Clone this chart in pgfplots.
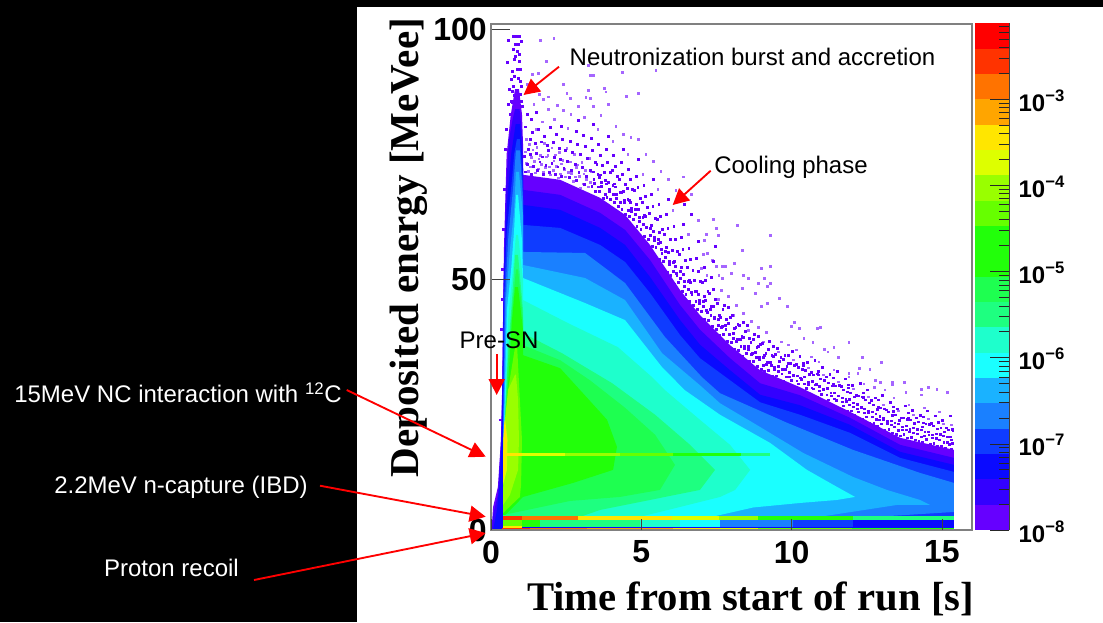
\documentclass[border=0pt]{standalone}
\usepackage{fontspec}
\usepackage{pgfplots}
\pgfplotsset{compat=1.18}
\usetikzlibrary{arrows.meta}
\setmainfont{Liberation Sans}
\newfontfamily\timesfont{Liberation Serif}
\definecolor{c1}{HTML}{6600FF}\definecolor{c2}{HTML}{3300FF}\definecolor{c3}{HTML}{0A0AFF}
\definecolor{c4}{HTML}{0F3CFF}\definecolor{c5}{HTML}{1A80FF}\definecolor{c6}{HTML}{1AB2FF}
\definecolor{c7}{HTML}{1AFFFF}\definecolor{c8}{HTML}{1EFFCC}\definecolor{c9}{HTML}{1EFF80}
\definecolor{c10}{HTML}{1EFF50}\definecolor{c11}{HTML}{22FF0A}\definecolor{c13}{HTML}{66FF00}
\definecolor{c14}{HTML}{99FF00}\definecolor{c15}{HTML}{DDFF00}\definecolor{c16}{HTML}{FFE600}
\definecolor{c17}{HTML}{FFA500}\definecolor{c18}{HTML}{FF7300}\definecolor{c19}{HTML}{FF3300}
\definecolor{c20}{HTML}{FF0000}\definecolor{lil}{HTML}{A566FF}
\newcommand\hl[5]{\addplot[#1,line width=#5pt,forget plot] coordinates {(#2,#4)(#3,#4)};}
\newcommand\poly[2]{\addplot[fill=#1,draw=none,forget plot] coordinates {#2} --cycle;}
\newcommand\seg[5]{\addplot[fill=#1,draw=none,forget plot] coordinates {(#2,#4)(#3,#4)(#3,#5)(#2,#5)} --cycle;}
\newcommand\pw[1]{\bfseries 10\raisebox{0.42em}{\fontsize{12.5}{12.5}\selectfont\bfseries −#1}}
\begin{document}
\begin{tikzpicture}
\begin{scope}[x=0.75pt,y=-0.75pt]
\useasboundingbox (0,0) rectangle (1103,622);
\fill[white] (0,0) rectangle (1103,622);
\fill[black] (0,0) rectangle (357,622);
\fill[black] (0,0) rectangle (1103,7);
\end{scope}
% main histogram
\begin{axis}[at={(368.25pt,-397.5pt)},anchor=south west,scale only axis,
 width=360.75pt,height=379.5pt,xmin=0,xmax=16,ymin=0,ymax=101,
 axis on top,axis line style={draw=black!50,line width=0.9pt},
 xtick=\empty,
 ytick={50,100},yticklabels={50,100},
 extra x ticks={0,5,10,15},extra x tick labels={0,5,10,15},extra x tick style={major tick length=8.6pt},
 extra y ticks={0},extra y tick labels={0},extra y tick style={major tick length=0pt},
 tick align=inside,tick pos=left,major tick length=14.2pt,
 tick style={black!75,line width=0.55pt},
 xticklabel style={font=\fontsize{24}{24}\selectfont\bfseries,inner sep=0pt,yshift=-8pt},
 yticklabel style={font=\fontsize{24}{24}\selectfont\bfseries,inner sep=0pt,xshift=-3pt,anchor=east},
 xlabel={Time from start of run [s]},ylabel={Deposited energy [MeVee]},
 every axis x label/.style={at={(rel axis cs:0.5395,-0.1362)},anchor=center,font=\timesfont\fontsize{30.5}{30.5}\selectfont\bfseries},
 every axis y label/.style={at={(rel axis cs:-0.1716,0.558)},anchor=center,rotate=90,font=\timesfont\fontsize{30.8}{30.8}\selectfont\bfseries},
]
% sparse bins (light)
\addplot[only marks,mark=square*,mark size=0.65pt,lil,mark options={draw=none,fill=lil},forget plot] coordinates {
(2.09,98.1)(1.63,97.8)(1.85,93.5)(1.57,91.2)(3.24,92.8)(4.37,91.3)(5.48,91.8)(3.29,90.8)(3.4,90.8)(3.76,88.2)(3.82,87.5)(3.24,87.8)(2.41,89)(4.51,86.6)(4.9,87.2)(1.91,86.5)(1.74,86)(2.52,87.2)(2.63,86.2)(3.29,86.2)
(8.2,60.9)(7.5,60.2)(7.55,58.9)(9.28,58.9)(7.1,57.9)(8.35,55.9)(7.2,55.3)(7.35,53.9)(8.1,53.3)(7.5,52.7)(7.7,52.7)(7.8,52.7)(9.0,52.2)(9.28,52.7)(7.0,52.2)(7.18,50.9)(7.58,50.9)(8.0,51.3)(8.4,50.9)(8.55,50.3)(7.7,50.3)(9.1,50.3)(8.9,49.3)(9.28,49.3)(9.18,48.7)(8.35,48.3)(9.6,46.3)(8.8,47.3)(9.2,45.3)(9.85,44.7)(9.0,44.7)(10.08,41.5)(10,40.7)(10.25,40.3)(10.95,40.5)(10.85,40.3)(10.4,38.3)(10.7,37.5)(11.9,37.5)(11.4,36.5)(11.08,36.1)(11.2,35.6)(12.34,34.5)(12.97,33.5)(11.55,34.5)(12.25,32.3)(12.6,32.1)(12.2,31.3)(11.9,31.3)(12.77,29.9)(12.94,29.5)(13.34,29.5)(13.74,29.5)(14.54,28.5)(14.83,28.1)(15.17,27.5)(14.3,28.1)(14.3,27)(13.8,27.5)(13.34,29)(13.1,28)(12.74,28.5)
(1.2,89)(1.42,85)(1.38,91)(1.6,87)(1.9,84)(2.2,84.8)(2.4,83.8)(2.65,83)(2.9,84.6)(3.15,86.4)(3.4,84.6)(3.65,82.8)(3.9,85)(4.15,80.6)(4.4,79)(4.65,78.4)(4.9,78)(5.15,75)(5.4,73.6)(5.65,71.6)(5.9,70)(6.15,67.8)(6.4,70.5)(6.65,67)(6.9,61.8)(7.15,59)(7.4,62)(7.65,47.8)(7.9,46.6)(8.15,44.8)(8.4,43.2)(8.65,41.6)(8.9,40.4)(9.15,39.4)(9.65,37.6)(9.9,37)(10.15,36)(10.65,34.6)(10.9,33.6)(11.4,32)(11.9,30.6)(12.4,29.2)(13.4,26.4)(13.9,25)(14.4,24.4)(14.9,23.6)
(1.18,78)(1.5,80)(1.7,81.5)(2.1,82)(2.55,80.2)(3.1,82.4)(3.55,80)(4.05,77.6)(4.55,75)(5.05,71)(5.55,68)(6.05,63.8)(6.55,59)(7.05,55)(7.55,46)(8.05,42.8)(8.55,39.8)(9.05,37.6)(9.55,35.6)(10.05,34)(10.55,32.4)(11.05,31)(11.55,29.6)(12.05,28.2)(12.55,26.6)(13.05,25)(13.55,23.8)(14.05,23)(14.55,22.2)(15.05,21.2)(15.3,21)
(1.23,71.6)(1.31,72.5)(1.18,73.2)(1.34,74.4)(1.14,75.5)(1.27,77)(1.48,71.3)(1.56,72.1)(1.43,73.6)(1.59,74.1)(1.39,75.9)(1.52,76.4)(1.73,71.5)(1.81,72.4)(1.68,73)(1.84,74.5)(1.64,74.8)(1.77,77.2)
(1.98,70.9)(2.06,71.8)(1.93,72.5)(2.09,73.7)(1.89,74.8)(2.02,76.3)(2.23,70.3)(2.31,71.1)(2.18,72.6)(2.34,73.1)(2.14,74.9)(2.27,75.4)(2.48,70.5)(2.56,71.4)(2.43,72)(2.59,73.5)(2.39,73.8)(2.52,76.2)
(2.73,69.6)(2.81,70.5)(2.68,71.2)(2.84,72.4)(2.64,73.5)(2.77,75)(2.98,68.3)(3.06,69.1)(2.93,70.6)(3.09,71.1)(2.89,72.9)(3.02,73.4)(3.23,68.5)(3.31,69.4)(3.18,70)(3.34,71.5)(3.14,71.8)(3.27,74.2)
};
% sparse bins (dark)
\addplot[only marks,mark=square*,mark size=0.7pt,c1,mark options={draw=none,fill=c1},forget plot] coordinates {
(0.75,98.5)(0.85,98.5)(0.95,98.5)(0.8,97)(0.9,97)(1.0,97.5)(0.58,97.8)(0.75,96)(0.87,95.5)(0.95,95)(0.78,94)(0.93,93.5)(0.55,93.4)(0.98,92)(0.72,91.5)(0.67,90)(1.0,88.5)(0.62,88)(0.58,85)(1.05,84.6)(0.52,80)(0.47,76)(0.44,68)(0.4,60)(0.38,52)(0.36,46)(0.34,40)(0.34,30)(0.32,22)(0.82,94.5)(0.88,92)(0.78,90.5)(0.9,90.2)(0.7,87.5)(0.96,89.6)(0.74,88.6)(0.97,87)(0.68,85.6)(0.76,86.8)(1.0,85.5)(0.64,83)(0.72,85.4)
(1.15,71.5)(1.22,73)(1.1,74.6)(1.25,76)(1.3,78)(1.13,80.5)(1.2,83)
(1.35,71)(1.42,72.6)(1.3,75)(1.46,77.2)(1.38,79.4)(1.33,82)
(1.55,71.8)(1.62,73.5)(1.5,75.2)(1.66,77.5)(1.58,80)(1.52,83.4)
(1.75,71)(1.82,72.8)(1.7,74.5)(1.86,76.8)(1.78,78.6)
(1.95,71.4)(2.02,73.2)(1.9,75.8)(2.06,77.4)(1.98,80.4)
(2.15,71)(2.22,72.5)(2.1,74.4)(2.26,76.2)(2.18,79)
(2.35,70.6)(2.42,72.2)(2.3,74)(2.46,75.8)(2.38,78)(2.33,80.6)
(2.6,70.4)(2.67,71.8)(2.55,73.6)(2.71,75.4)(2.63,77.6)
(2.85,69.8)(2.92,71.4)(2.8,73)(2.96,75)(2.88,77)(2.83,79.6)(2.9,81.8)
(3.1,69)(3.17,70.6)(3.05,72.4)(3.21,74.2)(3.13,76.6)(3.08,78.8)
(3.35,68.6)(3.42,70)(3.3,71.8)(3.46,73.4)(3.38,75.8)(3.33,78.2)(3.4,81)
(3.6,67.6)(3.67,69.4)(3.55,71)(3.71,72.8)(3.63,74.8)(3.58,77)
(3.85,66.4)(3.92,68)(3.8,69.8)(3.96,71.4)(3.88,73.4)(3.83,76)(3.9,78.6)
(4.1,65.4)(4.17,67)(4.05,68.8)(4.21,70.6)(4.13,72.6)(4.08,74.8)
(4.35,64)(4.42,65.8)(4.3,67.4)(4.46,69)(4.38,71)(4.33,73.4)(4.4,76)
(4.6,62.6)(4.67,64.2)(4.55,66)(4.71,68)(4.63,70)(4.58,72)
(4.85,60.6)(4.92,62.4)(4.8,64)(4.96,66.2)(4.88,68.4)(4.83,70.6)(4.9,74)
(5.1,58.6)(5.17,60.4)(5.05,62.4)(5.21,64.4)(5.13,66.6)(5.08,68.8)
(5.35,56.6)(5.42,58.4)(5.3,60.2)(5.46,62.2)(5.38,64.6)(5.33,67)(5.4,70)
(5.6,54)(5.67,56)(5.55,58)(5.71,60)(5.63,62.6)(5.58,65)
(5.85,51.4)(5.92,53.6)(5.8,55.6)(5.96,58)(5.88,60.2)(5.83,63)(5.9,66)
(6.1,49)(6.17,51.2)(6.05,53.4)(6.21,55.6)(6.13,58)(6.08,60.6)
(6.35,47.6)(6.42,49.6)(6.3,51.6)(6.46,53.8)(6.38,56)(6.33,58.4)(6.4,61)(6.43,65)
(6.6,45.6)(6.67,47.4)(6.55,49.6)(6.71,51.8)(6.63,54)(6.58,56.2)(6.66,63)
(6.85,44)(6.92,45.8)(6.8,47.6)(6.96,49.6)(6.88,51.6)(6.83,54.2)(6.9,57.6)
(7.1,42)(7.17,43.8)(7.05,45.6)(7.21,47.6)(7.13,49.8)(7.08,52.4)
(7.35,40.6)(7.42,42.2)(7.3,44)(7.46,46)(7.38,48)(7.33,50.4)(7.4,53.6)(7.45,56.6)
(7.6,38.8)(7.67,40.4)(7.55,42)(7.71,44)
(7.85,37.6)(7.92,39)(7.8,40.8)(7.96,42.4)(7.88,44.4)
(8.1,36)(8.17,37.6)(8.05,39.2)(8.21,41)
(8.35,34.6)(8.42,36.2)(8.3,38)(8.46,39.6)(8.38,41.4)
(8.6,33.6)(8.67,35)(8.55,36.6)(8.71,38)
(8.85,32.6)(8.92,34)(8.8,35.4)(8.96,37)(8.88,38.6)
(9.1,31.6)(9.17,33)(9.05,34.4)(9.21,36)
(9.35,30.8)(9.42,32)(9.3,33.4)(9.46,35)(9.38,36.6)
(9.6,30)(9.67,31.2)(9.55,32.6)(9.71,34)
(9.85,29.2)(9.92,30.6)(9.8,32)(9.96,33.2)(9.88,34.8)
(10.1,28.6)(10.17,29.8)(10.05,31)(10.21,32.4)
(10.35,28)(10.42,29.2)(10.3,30.4)(10.46,31.8)(10.38,33.2)
(10.6,27.2)(10.67,28.4)(10.55,29.6)(10.71,31)
(10.85,26.6)(10.92,27.8)(10.8,29)(10.96,30.2)(10.88,31.6)
(11.1,25.8)(11.17,27)(11.05,28.2)(11.21,29.4)
(11.35,25)(11.42,26.2)(11.3,27.4)(11.46,28.8)(11.38,30.4)
(11.6,24.4)(11.67,25.6)(11.55,26.8)(11.71,28)
(11.85,23.8)(11.92,25)(11.8,26.2)(11.96,27.4)(11.88,29)
(12.1,23)(12.17,24.2)(12.05,25.4)(12.21,26.8)
(12.35,22.2)(12.42,23.4)(12.3,24.6)(12.46,26)(12.38,27.4)
(12.6,21.4)(12.67,22.6)(12.55,23.8)(12.71,25)
(12.85,20.8)(12.92,22)(12.8,23.2)(12.96,24.4)(12.88,26)
(13.1,20)(13.17,21.2)(13.05,22.4)(13.21,23.6)
(13.35,19.4)(13.42,20.6)(13.3,21.8)(13.46,23)(13.38,24.6)
(13.6,18.8)(13.67,20)(13.55,21.2)(13.71,22.4)
(13.85,18.4)(13.92,19.6)(13.8,20.8)(13.96,22)(13.88,23.4)
(14.1,18)(14.17,19.2)(14.05,20.4)(14.21,21.6)
(14.35,17.6)(14.42,18.8)(14.3,20)(14.46,21.2)(14.38,22.6)
(14.6,17.2)(14.67,18.4)(14.55,19.6)(14.71,20.8)
(14.85,16.8)(14.92,18)(14.8,19.2)(14.96,20.4)(14.88,21.6)
(15.1,16.4)(15.17,17.6)(15.05,18.8)(15.21,20)
(15.3,16.2)(15.34,17.4)(15.27,18.6)(15.36,19.8)
(3.48,67.6)(3.56,68.5)(3.43,69.2)(3.59,70.4)(3.39,71.5)(3.52,73)(3.73,66.3)(3.81,67.1)(3.68,68.6)(3.84,69.1)(3.64,70.9)(3.77,71.4)(3.98,66.1)(4.06,67)(3.93,67.6)(4.09,69.1)(3.89,69.4)(4.02,71.8)
(4.23,64.6)(4.31,65.5)(4.18,66.2)(4.34,67.4)(4.14,68.5)(4.27,70)(4.48,63.1)(4.56,63.9)(4.43,65.4)(4.59,65.9)(4.39,67.7)(4.52,68.2)(4.73,62.1)(4.81,63)(4.68,63.6)(4.84,65.1)(4.64,65.4)(4.77,67.8)
(4.98,60.1)(5.06,61)(4.93,61.7)(5.09,62.9)(4.89,64)(5.02,65.5)(5.23,58.1)(5.31,58.9)(5.18,60.4)(5.34,60.9)(5.14,62.7)(5.27,63.2)(5.48,56.4)(5.56,57.3)(5.43,57.9)(5.59,59.4)(5.39,59.7)(5.52,62.1)
(5.73,53.6)(5.81,54.5)(5.68,55.2)(5.84,56.4)(5.64,57.5)(5.77,59)(5.98,50.8)(6.06,51.6)(5.93,53.1)(6.09,53.6)(5.89,55.4)(6.02,55.9)(6.23,49.4)(6.31,50.3)(6.18,50.9)(6.34,52.4)(6.14,52.7)(6.27,55.1)
(6.48,47.1)(6.56,48)(6.43,48.7)(6.59,49.9)(6.39,51)(6.52,52.5)(6.73,44.8)(6.81,45.6)(6.68,47.1)(6.84,47.6)(6.64,49.4)(6.77,49.9)(6.98,43.7)(7.06,44.6)(6.93,45.2)(7.09,46.7)(6.89,47)(7.02,49.4)
(7.23,41.9)(7.31,42.8)(7.18,43.5)(7.34,44.7)(7.14,45.8)(7.27,47.3)(7.48,40.1)(7.56,40.9)(7.43,42.4)(7.59,42.9)(7.39,44.7)(7.52,45.2)(7.73,39.1)(7.81,40)(7.68,40.6)(7.84,42.1)(7.64,42.4)(7.77,44.8)
(7.98,37.4)(8.06,38.3)(7.93,39)(8.09,40.2)(7.89,41.3)(8.02,42.8)(8.23,35.8)(8.31,36.6)(8.18,38.1)(8.34,38.6)(8.14,40.4)(8.27,40.9)(8.48,35.2)(8.56,36.1)(8.43,36.7)(8.59,38.2)(8.39,38.5)(8.52,40.9)
(8.73,33.6)(8.81,34.5)(8.68,35.2)(8.84,36.4)(8.64,37.5)(8.77,39)(8.98,32.1)(9.06,32.9)(8.93,34.4)(9.09,34.9)(8.89,36.7)(9.02,37.2)(9.23,31.9)(9.31,32.8)(9.18,33.4)(9.34,34.9)(9.14,35.2)(9.27,37.6)
(9.48,30.8)(9.56,31.7)(9.43,32.4)(9.59,33.6)(9.39,34.7)(9.52,36.2)(9.73,29.8)(9.81,30.6)(9.68,32.1)(9.84,32.6)(9.64,34.4)(9.77,34.9)(9.98,29.9)(10.06,30.8)(9.93,31.4)(10.09,32.9)(9.89,33.2)(10.02,35.6)
(10.23,29.2)(10.31,30.1)(10.18,30.8)(10.34,32)(10.14,33.1)(10.27,34.6)(10.48,28.3)(10.56,29.1)(10.43,30.6)(10.59,31.1)(10.39,32.9)(10.52,33.4)(10.73,28.2)(10.81,29.1)(10.68,29.7)(10.84,31.2)(10.64,31.5)(10.77,33.9)
(10.98,27.1)(11.06,28)(10.93,28.7)(11.09,29.9)(10.89,31)(11.02,32.5)(11.23,26)(11.31,26.8)(11.18,28.3)(11.34,28.8)(11.14,30.6)(11.27,31.1)(11.48,25.9)(11.56,26.8)(11.43,27.4)(11.59,28.9)(11.39,29.2)(11.52,31.6)
(11.73,24.8)(11.81,25.7)(11.68,26.4)(11.84,27.6)(11.64,28.7)(11.77,30.2)(11.98,23.8)(12.06,24.6)(11.93,26.1)(12.09,26.6)(11.89,28.4)(12.02,28.9)(12.23,23.6)(12.31,24.5)(12.18,25.1)(12.34,26.6)(12.14,26.9)(12.27,29.3)
(12.48,22.6)(12.56,23.5)(12.43,24.2)(12.59,25.4)(12.39,26.5)(12.52,28)(12.73,21.3)(12.81,22.1)(12.68,23.6)(12.84,24.1)(12.64,25.9)(12.77,26.4)(12.98,21.2)(13.06,22.1)(12.93,22.7)(13.09,24.2)(12.89,24.5)(13.02,26.9)
(13.23,20.1)(13.31,21)(13.18,21.7)(13.34,22.9)(13.14,24)(13.27,25.5)(13.48,19.1)(13.56,19.9)(13.43,21.4)(13.59,21.9)(13.39,23.7)(13.52,24.2)(13.73,19.1)(13.81,20)(13.68,20.6)(13.84,22.1)(13.64,22.4)(13.77,24.8)
(13.98,18.5)(14.06,19.4)(13.93,20.1)(14.09,21.3)(13.89,22.4)(14.02,23.9)(14.23,17.8)(14.31,18.6)(14.18,20.1)(14.34,20.6)(14.14,22.4)(14.27,22.9)(14.48,18.1)(14.56,19)(14.43,19.6)(14.59,21.1)(14.39,21.4)(14.52,23.8)
(14.73,17.4)(14.81,18.3)(14.68,19)(14.84,20.2)(14.64,21.3)(14.77,22.8)(14.98,16.8)(15.06,17.6)(14.93,19.1)(15.09,19.6)(14.89,21.4)(15.02,21.9)(15.23,17.1)(15.31,18)(15.18,18.6)(15.34,20.1)(15.14,20.4)(15.27,22.8)
};
% density contours, outermost first
\poly{c1}{(.8,88)(.93,88)(1.03,83)(1.065,77)(1.065,70.9)(2.3,69.9)(3.63,66.3)(4.46,62.9)(5.29,56.9)(6.29,47.9)(6.95,42.9)(7.95,36.9)(8.95,31.9)(10.28,28.5)(11.94,23.6)(13.61,18.4)(15.4,16)(15.4,0)(.02,0)(.07,4.6)(.23,8.6)(.33,18)(.37,28)(.43,56)(.52,75)(.66,83)}
\poly{c2}{(.8,84)(.95,84)(1.05,78)(1.065,72)(1.065,67.9)(2.3,66.9)(3.63,63.3)(4.46,59.9)(5.29,53.9)(6.29,44.9)(6.95,40)(7.95,34.3)(8.95,29.3)(10.28,26.9)(11.94,22.4)(13.61,17)(15.4,14.4)(15.4,0)(.03,0)(.07,3)(.23,7)(.33,17)(.37,27)(.42,50)(.5,68)(.6,78)(.72,82)}
\poly{c3}{(.82,81)(.97,81)(1.065,72)(1.065,64.9)(2.3,63.9)(3.63,60.3)(4.46,56.9)(5.29,50.5)(6.29,41.9)(6.95,37)(7.95,31.9)(8.95,27)(10.28,24.9)(11.94,21)(13.61,15.6)(15.4,13)(15.4,0)(.07,0)(.2,4)(.3,10)(.37,20)(.43,50)(.53,65)(.67,75)(.77,79)}
\poly{c4}{(.86,78)(.96,78)(1.065,69)(1.065,60.9)(2.3,60.3)(3.63,56.9)(4.46,53.5)(5.29,47.3)(6.29,38.9)(6.95,34.3)(7.95,29.9)(8.95,25.5)(10.28,23)(11.94,19.4)(13.61,14.4)(15.4,11.6)(15.4,2.7)(.4,2.7)(.4,18)(.43,46)(.53,60)(.7,70)(.77,75)}
\poly{c5}{(.83,75.8)(.96,75.8)(1.065,65.9)(1.065,55.5)(3.13,55.3)(4.46,49.3)(5.79,38.5)(7.02,30.5)(7.62,27.3)(9.85,21.4)(12.04,16)(14.27,11.4)(15.4,9.4)(15.4,3.6)(13,2.7)(.4,2.7)(.4,18)(.47,46)(.57,58)(.73,67.9)}
\poly{c6}{(.83,71.5)(.93,71.5)(1.065,62.9)(1.065,52.9)(3.13,50.3)(4.46,45.9)(5.69,35.3)(6.95,28.9)(7.62,25.3)(8.72,21.4)(10.38,15.4)(12.04,10.6)(13.17,8)(14.27,6)(14.6,5)(13.5,5)(11,2.7)(.4,2.7)(.42,18)(.5,46)(.63,56)(.77,63.9)}
\poly{c7}{(.83,66.9)(.9,66.9)(1.03,57.9)(1.065,50.3)(3.13,45.3)(4.46,41.9)(5.69,32.5)(6.45,27.9)(7.62,23)(9.28,17.4)(10.51,12)(11.51,8.6)(12.11,6.6)(11.51,6)(10.28,5.4)(8.72,4.5)(7.4,2.7)(.4,2.7)(.43,18)(.53,44)(.67,52)(.77,60)}
\poly{c8}{(.83,58.9)(.9,58.9)(1.065,49.9)(1.065,45.9)(2.56,41.3)(4.22,36.5)(5.36,30.5)(5.79,27.9)(6.95,22)(7.95,17)(8.62,12)(8.12,8)(7.62,6.6)(6.29,4.6)(5,2.7)(.4,2.7)(.43,18)(.57,42)(.73,52)}
\poly{c9}{(.8,54.9)(.9,54.9)(1.065,43.9)(1.065,39.3)(2.36,35.3)(4.03,29.3)(5.46,23)(6.62,17)(7.45,12)(6.95,8)(5.29,6)(3.63,4)(3,2.7)(.4,2.7)(.43,18)(.57,36)(.7,46)}
\poly{c10}{(.83,52)(.9,52)(1.065,41.9)(1.065,36.9)(2.3,33.9)(3.29,29.9)(4.46,24.4)(5.46,19)(6.12,13)(5.62,8)(4.29,6.6)(2.63,5.8)(1.2,4)(.4,3)(.43,18)(.57,34)(.7,44)}
\poly{c11}{(.8,48.5)(.9,48.5)(1.065,39.9)(1.065,34.9)(2.3,32.3)(3.06,27.3)(3.86,22)(4.19,16.6)(4.06,12)(2.73,9.4)(1.065,6.6)(.47,3)(.4,3)(.43,18)(.6,32)(.7,42)}
\poly{c13}{(.8,36.5)(.87,36.5)(.96,26)(1.03,18)(1,9)(.96,6.6)(.4,3.4)(.43,18)(.57,28)}
\poly{c14}{(.8,31)(.83,31)(.9,26)(.93,18)(.9,12)(.63,7)(.4,5)(.43,20)(.57,28)}
\poly{c15}{(.47,22)(.55,18)(.53,12)(.4,9)(.42,18)}
\poly{c16}{(.45,22)(.53,18)(.47,12)(.4,10)(.41,18)}
% 15 MeV line
\seg{c16}{.4}{1.03}{14.75}{15.35}\seg{c15}{1.03}{2.46}{14.75}{15.35}\seg{c14}{2.46}{4.3}{14.75}{15.35}
\seg{c13}{4.3}{6.05}{14.75}{15.35}\seg{c11}{6.05}{8.3}{14.75}{15.35}\seg{c9}{8.3}{9.28}{14.75}{15.35}
% low-energy band
\seg{c13}{.4}{1.03}{.7}{2}\seg{c11}{1.03}{1.63}{.7}{2}\seg{c9}{1.63}{4.96}{.7}{2}
\seg{c8}{4.96}{6.29}{.7}{2}\seg{c7}{6.29}{7.62}{.7}{2}\seg{c5}{7.62}{10.05}{.7}{2}
\seg{c4}{10.05}{12.04}{.7}{2}\seg{c3}{12.04}{15.4}{.7}{2}
% 2.2 MeV line
\seg{c19}{.4}{1.03}{1.95}{2.75}\seg{c18}{1.03}{2.9}{1.95}{2.75}\seg{c16}{2.9}{6.03}{1.95}{2.75}
\seg{c15}{6.03}{7.6}{1.95}{2.75}\seg{c14}{7.6}{8.88}{1.95}{2.75}\seg{c11}{8.88}{12.04}{1.95}{2.75}\seg{c9}{12.04}{15.4}{1.95}{2.75}
% proton recoil line
\seg{c16}{.4}{1.03}{.45}{.8}
\seg{c19}{.37}{1.3}{0}{.5}\seg{c18}{1.3}{3.2}{0}{.5}\seg{c17}{3.2}{6.05}{0}{.5}
\seg{c16}{6.05}{7.6}{0}{.5}\seg{c15}{7.6}{8.88}{0}{.5}\seg{c13}{8.88}{12}{0}{.5}\seg{c11}{12}{15.4}{0}{.5}
\end{axis}
% colour bar
\begin{axis}[at={(731.25pt,-397.5pt)},anchor=south west,scale only axis,
 width=25.5pt,height=380pt,xmin=0,xmax=1,ymode=log,ymin=1e-8,ymax=7.62e-3,
 axis on top,axis x line=none,axis y line*=right,
 axis line style={draw=black!75,line width=0.6pt},
 tick align=inside,
 ytick={1e-8,1e-7,1e-6,1e-5,1e-4,1e-3},
 yticklabels={\pw{8},\pw{7},\pw{6},\pw{5},\pw{4},\pw{3}},
 minor ytick={2e-8,3e-8,4e-8,5e-8,6e-8,7e-8,8e-8,9e-8,2e-7,3e-7,4e-7,5e-7,6e-7,7e-7,8e-7,9e-7,2e-6,3e-6,4e-6,5e-6,6e-6,7e-6,8e-6,9e-6,2e-5,3e-5,4e-5,5e-5,6e-5,7e-5,8e-5,9e-5,2e-4,3e-4,4e-4,5e-4,6e-4,7e-4,8e-4,9e-4,2e-3,3e-3,4e-3,5e-3,6e-3,7e-3},
 major tick length=14.2pt,minor tick length=7.5pt,
 tick style={black!85,line width=0.5pt},
 yticklabel style={font=\fontsize{18}{18}\selectfont\bfseries,inner sep=0pt,anchor=west,xshift=7pt,yshift=-1pt},
]
\poly{c1}{(0,1e-8)(1,1e-8)(1,1.968e-8)(0,1.968e-8)}
\poly{c2}{(0,1.968e-8)(1,1.968e-8)(1,3.874e-8)(0,3.874e-8)}
\poly{c3}{(0,3.874e-8)(1,3.874e-8)(1,7.62e-8)(0,7.62e-8)}
\poly{c4}{(0,7.62e-8)(1,7.62e-8)(1,1.5e-7)(0,1.5e-7)}
\poly{c5}{(0,1.5e-7)(1,1.5e-7)(1,2.95e-7)(0,2.95e-7)}
\poly{c6}{(0,2.95e-7)(1,2.95e-7)(1,5.82e-7)(0,5.82e-7)}
\poly{c7}{(0,5.82e-7)(1,5.82e-7)(1,1.145e-6)(0,1.145e-6)}
\poly{c8}{(0,1.145e-6)(1,1.145e-6)(1,2.25e-6)(0,2.25e-6)}
\poly{c9}{(0,2.25e-6)(1,2.25e-6)(1,4.43e-6)(0,4.43e-6)}
\poly{c10}{(0,4.43e-6)(1,4.43e-6)(1,8.73e-6)(0,8.73e-6)}
\poly{c11}{(0,8.73e-6)(1,8.73e-6)(1,3.38e-5)(0,3.38e-5)}
\poly{c13}{(0,3.38e-5)(1,3.38e-5)(1,6.66e-5)(0,6.66e-5)}
\poly{c14}{(0,6.66e-5)(1,6.66e-5)(1,1.31e-4)(0,1.31e-4)}
\poly{c15}{(0,1.31e-4)(1,1.31e-4)(1,2.58e-4)(0,2.58e-4)}
\poly{c16}{(0,2.58e-4)(1,2.58e-4)(1,5.08e-4)(0,5.08e-4)}
\poly{c17}{(0,5.08e-4)(1,5.08e-4)(1,1e-3)(0,1e-3)}
\poly{c18}{(0,1e-3)(1,1e-3)(1,1.97e-3)(0,1.97e-3)}
\poly{c19}{(0,1.97e-3)(1,1.97e-3)(1,3.87e-3)(0,3.87e-3)}
\poly{c20}{(0,3.87e-3)(1,3.87e-3)(1,7.62e-3)(0,7.62e-3)}
\end{axis}
% annotations
\begin{scope}[x=0.75pt,y=-0.75pt,every node/.style={inner sep=0pt,font=\fontsize{18}{21}\selectfont},
 arr/.style={red,line width=1.4pt,-{Triangle[length=12pt,width=12pt]},shorten >=0pt}]
\node at (752.5,57) {Neutronization burst and accretion};
\node at (791,167) {Cooling phase};
\node at (499,340) {Pre-SN};
\node[white] at (178,393) {15MeV NC interaction with \textsuperscript{12}C};
\node[white] at (181,487) {2.2MeV n-capture (IBD)};
\node[white] at (171.5,568) {Proton recoil};
\draw[arr] (559,66.7) -- (523.5,95);
\draw[arr] (710.7,170.7) -- (672.7,205);
\draw[arr] (496.7,354) -- (496.7,395);
\draw[arr] (346.7,390) -- (485.7,456.7);
\draw[arr] (320,485.7) -- (485.7,516.7);
\draw[arr] (254,580) -- (485.7,533);
\end{scope}
\end{tikzpicture}
\end{document}
